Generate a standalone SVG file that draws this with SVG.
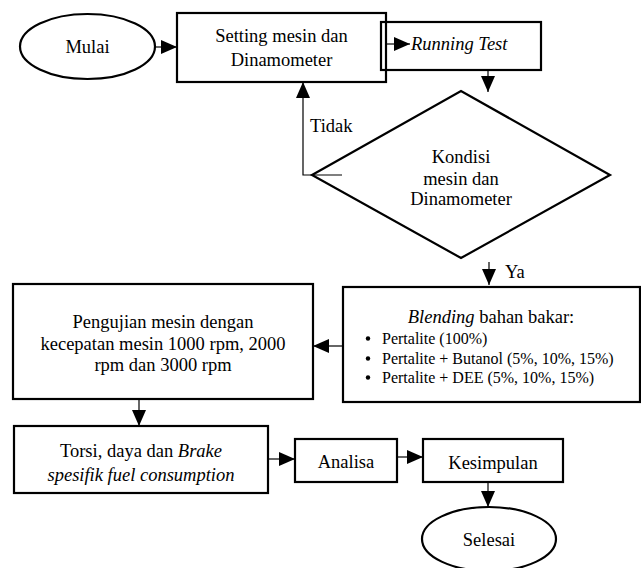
<svg xmlns="http://www.w3.org/2000/svg" width="641" height="568" viewBox="0 0 641 568">
<defs>
<marker id="ah" viewBox="0 0 16 14" refX="16" refY="7" markerWidth="16" markerHeight="14" markerUnits="userSpaceOnUse" orient="auto">
<path d="M0,0 L16,7 L0,14 Z" fill="#000"/>
</marker>
<style>
.box{fill:none;stroke:#000;stroke-width:2.2}
.con{fill:none;stroke:#000;stroke-width:1.2;marker-end:url(#ah)}
text{font-family:"Liberation Serif","Times New Roman",serif;font-size:18.5px;fill:#000}
.c{text-anchor:middle}
.i{font-style:italic}
.sm{font-size:16px}
</style>
</defs>
<rect width="641" height="568" fill="#fff"/>
<g id="connectors">
<line class="con" x1="155" y1="47" x2="177" y2="47"/>
<line class="con" x1="387" y1="44" x2="410" y2="44"/>
<line class="con" x1="488" y1="70" x2="488" y2="92"/>
<path class="con" d="M342,175 H303 V82"/>
<line class="con" x1="489" y1="262" x2="489" y2="285"/>
<line class="con" x1="343" y1="346" x2="313" y2="346"/>
<line class="con" x1="139" y1="399" x2="139" y2="426"/>
<line class="con" x1="268" y1="459" x2="295" y2="459"/>
<line class="con" x1="397" y1="457" x2="423" y2="457"/>
<line class="con" x1="488" y1="482" x2="488" y2="507"/>
</g>
<g id="mulai">
<ellipse class="box" cx="87.5" cy="46.5" rx="67.5" ry="32.5"/>
<text class="c" x="87.5" y="52.5">Mulai</text>
</g>
<g id="setting">
<rect class="box" x="177" y="13" width="209" height="69"/>
<text class="c" x="281.5" y="42">Setting mesin dan</text>
<text class="c" x="281.5" y="66">Dinamometer</text>
</g>
<g id="running">
<rect class="box" x="381" y="22" width="160" height="48"/>
<text class="i" x="411" y="50">Running Test</text>
</g>
<g id="kondisi">
<polygon class="box" points="312,175 461,91 610,175 461,258"/>
<text class="c" x="461" y="163">Kondisi</text>
<text class="c" x="461" y="185">mesin dan</text>
<text class="c" x="461" y="205">Dinamometer</text>
</g>
<g id="labels">
<text x="310" y="132">Tidak</text>
<text x="505" y="278">Ya</text>
</g>
<g id="blending">
<rect class="box" x="343" y="287" width="297" height="115"/>
<text class="c" x="491" y="323"><tspan class="i">Blending</tspan> bahan bakar:</text>
<circle cx="368" cy="338.5" r="2.2"/>
<circle cx="368" cy="358.5" r="2.2"/>
<circle cx="368" cy="377.5" r="2.2"/>
<text class="sm" x="382" y="344">Pertalite (100%)</text>
<text class="sm" x="382" y="364">Pertalite + Butanol (5%, 10%, 15%)</text>
<text class="sm" x="382" y="383">Pertalite + DEE (5%, 10%, 15%)</text>
</g>
<g id="pengujian">
<rect class="box" x="13" y="284" width="300" height="115"/>
<text class="c" x="163" y="328">Pengujian mesin dengan</text>
<text class="c" x="163" y="350">kecepatan mesin 1000 rpm, 2000</text>
<text class="c" x="163" y="371">rpm dan 3000 rpm</text>
</g>
<g id="torsi">
<rect class="box" x="14" y="426" width="254" height="67"/>
<text class="c" x="141" y="457">Torsi, daya dan <tspan class="i">Brake</tspan></text>
<text class="c i" x="141" y="481">spesifik fuel consumption</text>
</g>
<g id="analisa">
<rect class="box" x="295" y="439" width="102" height="43"/>
<text class="c" x="346" y="468">Analisa</text>
</g>
<g id="kesimpulan">
<rect class="box" x="423" y="439" width="140" height="43"/>
<text class="c" x="493" y="469">Kesimpulan</text>
</g>
<g id="selesai">
<ellipse class="box" cx="489" cy="539" rx="67" ry="32"/>
<text class="c" x="489" y="546">Selesai</text>
</g>
</svg>
